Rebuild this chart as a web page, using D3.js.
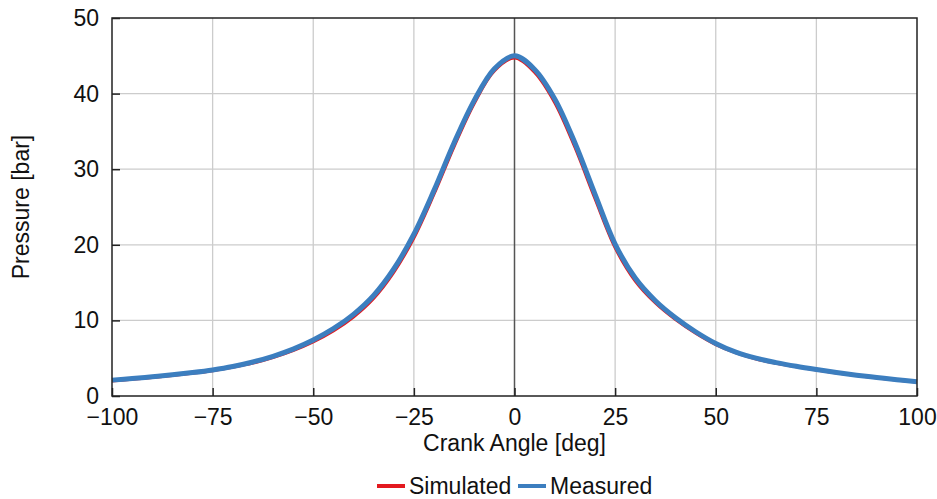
<!DOCTYPE html>
<html>
<head>
<meta charset="utf-8">
<script src="https://cdn.jsdelivr.net/npm/d3@7"></script>
<style>
  body { margin: 0; background: #fff; }
  text { font-family: "Liberation Sans", Arial, sans-serif; }
</style>
</head>
<body>
<svg id="my-svg"></svg>
<script>
var width = 937;
var height = 499;
var margin = {top: 18, bottom: 103, left: 112, right: 20};
var innerW = width - margin.left - margin.right;
var innerH = height - margin.top - margin.bottom;
var fontSize = 23;

// Data
var crankAngle = [-100, -95, -90, -85, -80, -75, -70, -65, -60, -55, -50, -45, -40, -35, -30, -25, -20, -15, -10, -5,
  0, 5, 10, 15, 20, 25, 30, 35, 40, 45, 50, 55, 60, 65, 70, 75, 80, 85, 90, 95, 100];
var measured = [2.1, 2.3, 2.55, 2.8, 3.1, 3.45, 3.9, 4.5, 5.25, 6.2, 7.4, 8.9, 10.8, 13.3, 16.8, 21.4, 27.2, 33.5, 39.1, 43.3,
  45.0, 43.2, 39.3, 33.5, 26.7, 20.1, 15.6, 12.6, 10.35, 8.5, 6.95, 5.8, 5.0, 4.42, 3.93, 3.5, 3.1, 2.75, 2.45, 2.15, 1.9];
var simulated = [2.0, 2.2, 2.45, 2.7, 3.0, 3.35, 3.8, 4.35, 5.1, 6.0, 7.15, 8.6, 10.45, 12.9, 16.35, 20.9, 26.7, 33.0, 38.7, 43.0,
  44.7, 42.8, 38.8, 32.9, 26.1, 19.6, 15.2, 12.3, 10.1, 8.3, 6.8, 5.7, 4.9, 4.33, 3.86, 3.44, 3.05, 2.7, 2.4, 2.1, 1.85];
var xTicks = [-100, -75, -50, -25, 0, 25, 50, 75, 100];
var yTicks = [0, 10, 20, 30, 40, 50];
var seriesNames = ['Simulated', 'Measured'];

var svg = d3.select('#my-svg')
  .attr('width', width)
  .attr('height', height);

var g = svg.append('g')
  .attr('transform', 'translate(' + margin.left + ',' + margin.top + ')');

var x = d3.scaleLinear().domain([-100, 100]).range([0, innerW]);
var y = d3.scaleLinear().domain([0, 50]).range([innerH, 0]);
var z = d3.scaleOrdinal().domain(seriesNames).range(['#e3191f', '#3c7ebf']);

// Gridlines
g.append('g')
  .selectAll('line')
  .data(xTicks.filter(function(d) { return d !== -100 && d !== 0 && d !== 100; }))
  .enter().append('line')
    .attr('x1', function(d) { return x(d); })
    .attr('x2', function(d) { return x(d); })
    .attr('y1', 0)
    .attr('y2', innerH)
    .attr('stroke', '#cccccc')
    .attr('stroke-width', 1.3);

g.append('g')
  .selectAll('line')
  .data(yTicks.filter(function(d) { return d !== 0 && d !== 50; }))
  .enter().append('line')
    .attr('x1', 0)
    .attr('x2', innerW)
    .attr('y1', function(d) { return y(d); })
    .attr('y2', function(d) { return y(d); })
    .attr('stroke', '#cccccc')
    .attr('stroke-width', 1.3);

// zero line
g.append('line')
  .attr('x1', x(0))
  .attr('x2', x(0))
  .attr('y1', 0)
  .attr('y2', innerH)
  .attr('stroke', '#555')
  .attr('stroke-width', 1.5);

// Axes (ticks inward)
var xAxis = g.append('g')
  .attr('transform', 'translate(0,' + innerH + ')')
  .call(d3.axisBottom(x).tickValues(xTicks).tickSizeInner(-8).tickSizeOuter(0).tickPadding(13));
var yAxis = g.append('g')
  .call(d3.axisLeft(y).tickValues(yTicks).tickSizeInner(-8).tickSizeOuter(0).tickPadding(13));

[xAxis, yAxis].forEach(function(a) {
  a.select('.domain').remove();
  a.selectAll('line').attr('stroke', '#222').attr('stroke-width', 1.5);
  a.selectAll('text')
    .attr('font-family', '"Liberation Sans", Arial, sans-serif')
    .attr('font-size', fontSize)
    .attr('fill', '#111');
});
yAxis.selectAll('text').attr('dy', '0.33em');

// Lines
var data = crankAngle.map(function(a, i) {
  return {angle: a, Simulated: simulated[i], Measured: measured[i]};
});

seriesNames.forEach(function(key) {
  var line = d3.line()
    .x(function(d) { return x(d.angle); })
    .y(function(d) { return y(d[key]); })
    .curve(d3.curveCatmullRom.alpha(0.5));
  g.append('path')
    .datum(data)
    .attr('fill', 'none')
    .attr('stroke', z(key))
    .attr('stroke-width', key === 'Measured' ? 5 : 3)
    .attr('stroke-linejoin', 'round')
    .attr('d', line);
});

// Frame
g.append('rect')
  .attr('width', innerW)
  .attr('height', innerH)
  .attr('fill', 'none')
  .attr('stroke', '#222')
  .attr('stroke-width', 1.5);

// Axis titles
svg.append('text')
  .attr('x', margin.left + innerW / 2)
  .attr('y', 451)
  .attr('text-anchor', 'middle')
  .attr('font-size', fontSize)
  .attr('fill', '#111')
  .text('Crank Angle [deg]');

svg.append('text')
  .attr('transform', 'translate(29,' + (margin.top + innerH / 2) + ') rotate(-90)')
  .attr('text-anchor', 'middle')
  .attr('font-size', fontSize)
  .attr('fill', '#111')
  .text('Pressure [bar]');

// Legend
var legendX = [377, 518];
var legend = svg.append('g')
  .selectAll('g')
  .data(seriesNames)
  .enter().append('g')
    .attr('transform', function(d, i) { return 'translate(' + legendX[i] + ',486)'; });

legend.append('line')
  .attr('x1', 0)
  .attr('x2', 28)
  .attr('stroke', z)
  .attr('stroke-width', 4);

legend.append('text')
  .attr('x', 32)
  .attr('y', 8)
  .attr('font-size', fontSize)
  .attr('fill', '#111')
  .text(function(d) { return d; });
</script>
</body>
</html>
